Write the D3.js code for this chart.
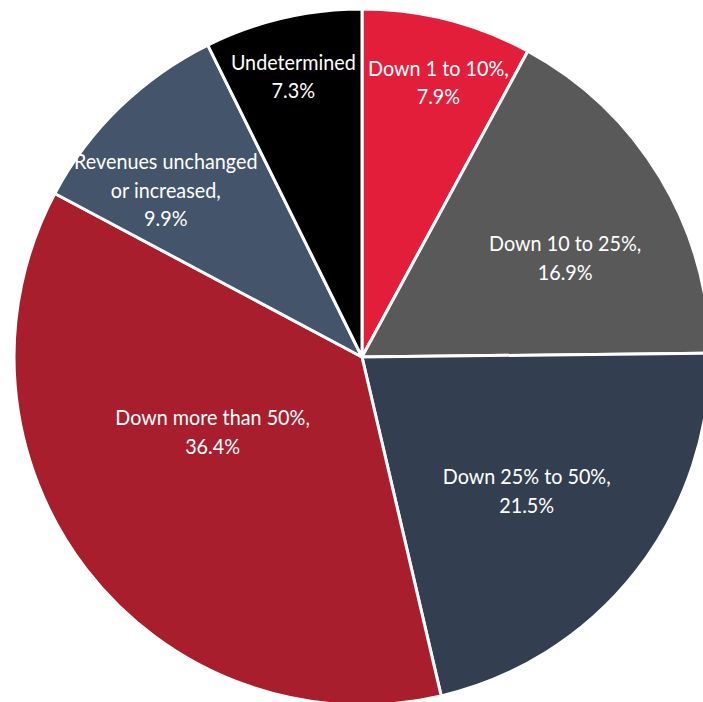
<!DOCTYPE html>
<html>
<head>
<meta charset="utf-8">
<script src="https://cdn.jsdelivr.net/npm/d3@7"></script>
<style>
    html, body { margin: 0; padding: 0; background: #ffffff; overflow: hidden; }
    svg { display: block; }
</style>
</head>
<body>
<div id="chart"></div>
<script>
'use strict';

// Categories, clockwise from 12 o'clock
const categories = [
    ["Down 1 to 10%,"],
    ["Down 10 to 25%,"],
    ["Down 25% to 50%,"],
    ["Down more than 50%,"],
    ["Revenues unchanged", "or increased,"],
    ["Undetermined"]
];
const shares = [7.9, 16.9, 21.5, 36.4, 9.9, 7.3];
const valueLabels = ["7.9%", "16.9%", "21.5%", "36.4%", "9.9%", "7.3%"];
const colors = ["#E31E3B", "#595959", "#333F50", "#A81E2C", "#44546A", "#000000"];

// label placement (fraction of radius, angle nudge in degrees)
const labelRadius = [0.82, 0.65, 0.61, 0.48, 0.74, 0.83];
const labelNudge = [1.3, 5, 1, 11, -5.5, -0.6];

const WIDTH = 703,
    HEIGHT = 702,
    cx = 362,
    cy = 357,
    R = 348;

const svg = d3.select("#chart").append("svg")
    .attr("width", WIDTH)
    .attr("height", HEIGHT);

const g = svg.append("g")
    .attr("transform", "translate(" + cx + "," + cy + ")");

const pie = d3.pie()
    .sort(null)
    .value(d => d);

const arcs = pie(shares);

const arc = d3.arc()
    .innerRadius(0)
    .outerRadius(R);

// slices
g.selectAll("path.slice")
    .data(arcs)
    .enter().append("path")
    .attr("class", "slice")
    .attr("d", arc)
    .attr("fill", (d, i) => colors[i])
    .attr("stroke", "#ffffff")
    .attr("stroke-width", 3)
    .attr("stroke-linejoin", "round");

// labels (squeezed a bit to get closer to the narrow original face)
const lineH = 28.5;
arcs.forEach(function(d, i) {
    let mid = (d.startAngle + d.endAngle) / 2 + labelNudge[i] * Math.PI / 180;
    let r = labelRadius[i] * R;
    let x = Math.sin(mid) * r;
    let y = -Math.cos(mid) * r;
    let lines = categories[i].concat([valueLabels[i]]);
    let top = y - (lines.length - 1) * lineH / 2;

    let t = g.append("text")
        .attr("transform", "translate(" + x + "," + top + ") scale(0.92,1)")
        .attr("text-anchor", "middle")
        .attr("fill", "#ffffff")
        .style("font-family", "Lato, 'Open Sans', sans-serif")
        .style("font-size", "21.5px");

    lines.forEach(function(s, j) {
        t.append("tspan")
            .attr("x", 0)
            .attr("y", j * lineH)
            .attr("dy", "0.36em")
            .text(s);
    });
});
</script>
</body>
</html>
